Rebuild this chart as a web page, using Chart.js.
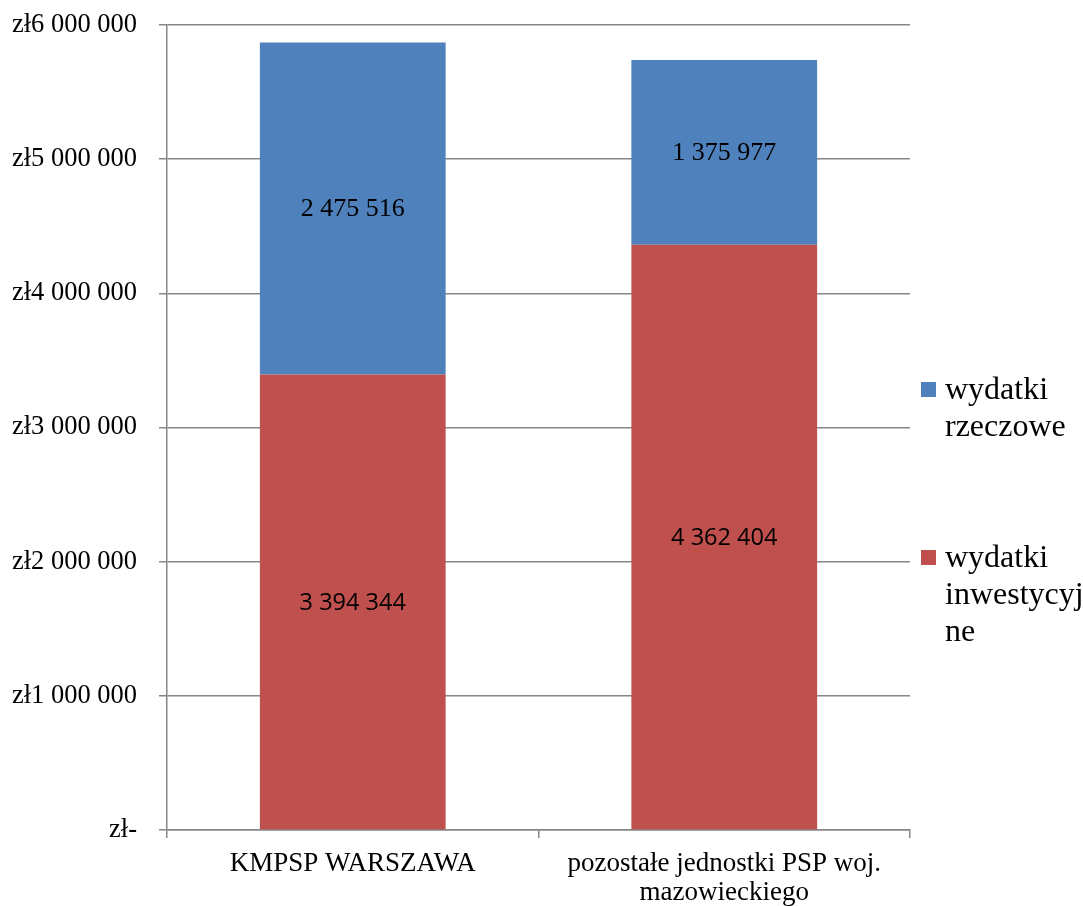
<!DOCTYPE html>
<html>
<head>
<meta charset="utf-8">
<script src="https://cdn.jsdelivr.net/npm/chart.js@4.4.1/dist/chart.umd.min.js"></script>
<style>
  html, body { margin: 0; padding: 0; background: #fff; }
  canvas { display: block; }
</style>
</head>
<body>
<canvas id="myChart" width="1083" height="906"></canvas>
<script>
// categories and values
const categories = ['KMPSP WARSZAWA', ['pozostałe jednostki PSP woj.', 'mazowieckiego']]
const inwestycyjne = [3394344, 4362404]
const rzeczowe = [2475516, 1375977]
const yTicks = [0, 1000000, 2000000, 3000000, 4000000, 5000000, 6000000]

const gridColor = '#868686'
const serif = '"Liberation Serif", "Times New Roman", serif'

const fmt = (v) => String(Math.round(v)).replace(/\B(?=(\d{3})+(?!\d))/g, ' ')

// numbers in the middle of each bar piece
const barLabels = {
  id: 'barLabels',
  afterDatasetsDraw(chart) {
    const ctx = chart.ctx
    chart.data.datasets.forEach((ds, i) => {
      const meta = chart.getDatasetMeta(i)
      ctx.save()
      ctx.fillStyle = '#000'
      ctx.textAlign = 'center'
      ctx.textBaseline = 'middle'
      ctx.font = ds.labelFont
      meta.data.forEach((bar, j) => {
        const y = (bar.y + bar.base) / 2
        ctx.fillText(fmt(ds.data[j]), bar.x, y + 1)
      })
      ctx.restore()
    })
  },
}

// legend on the right, wrapped like the original
const sideLegend = {
  id: 'sideLegend',
  afterDraw(chart) {
    const ctx = chart.ctx
    const area = chart.chartArea
    const order = [1, 0]
    const starts = [399, 567]
    const maxW = 146
    ctx.save()
    ctx.font = '32px ' + serif
    ctx.textBaseline = 'alphabetic'
    ctx.textAlign = 'left'
    order.forEach((di, k) => {
      const ds = chart.data.datasets[di]
      // wrap words, break long words by characters
      const lines = []
      let cur = ''
      ds.label.split(' ').forEach((w) => {
        const test = cur ? cur + ' ' + w : w
        if (ctx.measureText(test).width <= maxW) { cur = test; return }
        if (cur) lines.push(cur)
        cur = ''
        for (const ch of w) {
          if (ctx.measureText(cur + ch).width > maxW && cur) { lines.push(cur); cur = ch }
          else cur += ch
        }
      })
      if (cur) lines.push(cur)
      const y0 = starts[k]
      ctx.fillStyle = ds.backgroundColor
      ctx.fillRect(area.right + 11, y0 - 17, 15, 15)
      ctx.fillStyle = '#000'
      lines.forEach((ln, n) => ctx.fillText(ln, area.right + 35, y0 + n * 37))
    })
    ctx.restore()
  },
}

const data = {
  labels: categories,
  datasets: [
    {
      label: 'wydatki inwestycyjne',
      data: inwestycyjne,
      backgroundColor: '#C0504D',
      labelFont: '23.5px "Open Sans", sans-serif',
    },
    {
      label: 'wydatki rzeczowe',
      data: rzeczowe,
      backgroundColor: '#4F81BD',
      labelFont: '26px ' + serif,
    },
  ],
}

const config = {
  type: 'bar',
  data: data,
  options: {
    responsive: false,
    animation: false,
    devicePixelRatio: 1,
    layout: { padding: { left: 0, top: 25, right: 173, bottom: 0 } },
    datasets: { bar: { barPercentage: 0.5, categoryPercentage: 1 } },
    plugins: {
      legend: { display: false },
      tooltip: { enabled: false },
    },
    scales: {
      x: {
        stacked: true,
        afterFit: (s) => { s.height = 76 },
        grid: {
          offset: true,
          drawOnChartArea: false,
          drawTicks: true,
          tickLength: 8,
          color: gridColor,
          lineWidth: 1.5,
        },
        border: { color: gridColor, width: 1.5 },
        ticks: {
          color: '#000',
          padding: 12,
          maxRotation: 0,
          autoSkip: false,
          font: { family: serif, size: 27, lineHeight: 1.06 },
        },
      },
      y: {
        stacked: true,
        min: 0,
        max: 6000000,
        afterFit: (s) => {
          s.width = 167
          s.paddingTop = 0
          s.paddingBottom = 0
        },
        afterBuildTicks: (s) => { s.ticks = yTicks.map((v) => ({ value: v })) },
        grid: { color: gridColor, lineWidth: 1.5, tickLength: 8 },
        border: { color: gridColor, width: 1.5 },
        ticks: {
          color: '#000',
          padding: 22,
          font: { family: serif, size: 26.5 },
          callback: (v) => (v === 0 ? 'zł-' : 'zł' + fmt(v)),
        },
      },
    },
  },
  plugins: [barLabels, sideLegend],
}

const myChart = new Chart(document.getElementById('myChart'), config)
</script>
</body>
</html>
